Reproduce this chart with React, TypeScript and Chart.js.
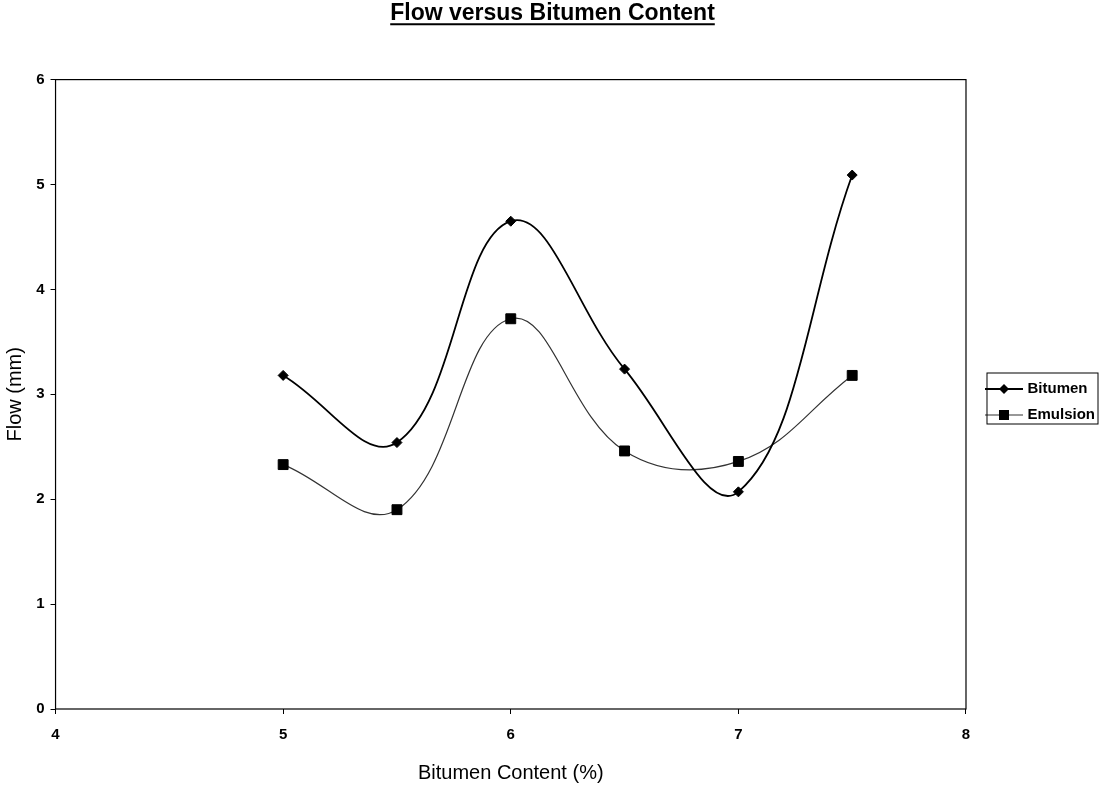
import React, { useEffect, useRef } from "react";
import { Chart, registerables } from "chart.js";

Chart.register(...registerables);

// ---- data ----
const bitumenContent = [5, 5.5, 6, 6.5, 7, 7.5];
const bitumenFlow = [3.18, 2.54, 4.65, 3.24, 2.07, 5.09];
const emulsionFlow = [2.33, 1.9, 3.72, 2.46, 2.36, 3.18];
const xTickValues = [4, 5, 6, 7, 8];
const yTickValues = [0, 1, 2, 3, 4, 5, 6];
const seriesNames = ["Bitumen", "Emulsion"];
const chartTitle = "Flow versus Bitumen Content";
const xAxisTitle = "Bitumen Content (%)";
const yAxisTitle = "Flow (mm)";

const FONT = '"Liberation Sans", Arial, Helvetica, sans-serif';
const TITLE_SIZE = 23;

function makeIcon(shape: string, color: string, lineWidth: number): HTMLCanvasElement {
  const c = document.createElement("canvas");
  c.width = 38;
  c.height = 12;
  const ctx = c.getContext("2d")!;
  ctx.strokeStyle = color;
  ctx.lineWidth = lineWidth;
  ctx.beginPath();
  ctx.moveTo(0, 6);
  ctx.lineTo(38, 6);
  ctx.stroke();
  ctx.fillStyle = "#000";
  if (shape === "diamond") {
    ctx.beginPath();
    ctx.moveTo(19, 1);
    ctx.lineTo(24, 6);
    ctx.lineTo(19, 11);
    ctx.lineTo(14, 6);
    ctx.closePath();
    ctx.fill();
  } else {
    ctx.fillRect(14, 1, 10, 10);
  }
  return c;
}

const decorPlugin = {
  id: "decor",
  afterDraw(chart: any) {
    const { ctx, chartArea: a } = chart;
    ctx.save();
    // plot frame
    ctx.strokeStyle = "#000";
    ctx.lineWidth = 1.2;
    ctx.strokeRect(a.left, a.top, a.right - a.left, a.bottom - a.top);

    // title underline
    const tb = chart.titleBlock;
    if (tb) {
      ctx.font = `bold ${TITLE_SIZE}px ${FONT}`;
      const w = ctx.measureText(chartTitle).width;
      const cx = (tb.left + tb.right) / 2;
      const cy = tb.top + (TITLE_SIZE * 1.2) / 2;
      ctx.lineWidth = 2;
      ctx.beginPath();
      ctx.moveTo(cx - w / 2, cy + 10.5);
      ctx.lineTo(cx + w / 2, cy + 10.5);
      ctx.stroke();
    }

    // legend border
    const lg = chart.legend;
    if (lg && lg.legendHitBoxes && lg.legendHitBoxes.length) {
      const hb = lg.legendHitBoxes;
      const left = hb[0].left - 1;
      let right = 0;
      hb.forEach((h: any) => (right = Math.max(right, h.left + h.width)));
      right = Math.min(right + 3, chart.width - 2);
      const top = hb[0].top + 7.5 - 16;
      const bottom = hb[hb.length - 1].top + 7.5 + 9;
      ctx.lineWidth = 1;
      ctx.strokeRect(left, top, right - left, bottom - top);
    }
    ctx.restore();
  },
};

export default function App() {
  const ref = useRef<HTMLCanvasElement | null>(null);

  useEffect(() => {
    if (!ref.current) return;
    Chart.defaults.font.family = FONT;
    Chart.defaults.color = "#000";

    const icons = [makeIcon("diamond", "#000", 1.8), makeIcon("square", "#333", 1.2)];

    const chart = new Chart(ref.current, {
      type: "line",
      data: {
        datasets: [
          {
            label: seriesNames[0],
            data: bitumenContent.map((x, i) => ({ x, y: bitumenFlow[i] })),
            borderColor: "#000",
            backgroundColor: "#000",
            borderWidth: 1.8,
            pointStyle: "rectRot",
            pointRadius: 5,
            pointBorderWidth: 1,
            pointBackgroundColor: "#000",
            pointBorderColor: "#000",
            tension: 0.4,
            fill: false,
          },
          {
            label: seriesNames[1],
            data: bitumenContent.map((x, i) => ({ x, y: emulsionFlow[i] })),
            borderColor: "#333",
            backgroundColor: "#000",
            borderWidth: 1.2,
            pointStyle: "rect",
            pointRadius: 7,
            pointBorderWidth: 1,
            pointBackgroundColor: "#000",
            pointBorderColor: "#000",
            tension: 0.4,
            fill: false,
          },
        ],
      },
      options: {
        animation: false,
        responsive: false,
        layout: { padding: 0 },
        plugins: {
          title: {
            display: true,
            text: chartTitle,
            color: "#000",
            font: { size: TITLE_SIZE, weight: "bold", lineHeight: 1.2 },
            padding: { top: 0, bottom: 52 },
          },
          legend: {
            position: "right",
            align: "center",
            title: { display: true, text: "", padding: 0, font: { size: 19, lineHeight: 1 } },
            labels: {
              color: "#000",
              font: { size: 15, weight: "bold" },
              usePointStyle: true,
              pointStyleWidth: 32,
              boxHeight: 12,
              padding: 11,
              generateLabels: (c: any) => {
                const items = (Chart.defaults.plugins.legend.labels as any).generateLabels(c);
                return items.map((it: any, i: number) => ({ ...it, pointStyle: icons[i], lineWidth: 0 }));
              },
            },
          },
          tooltip: { enabled: false },
        },
        scales: {
          x: {
            type: "linear",
            min: 4,
            max: 8,
            afterBuildTicks: (s: any) => {
              s.ticks = xTickValues.map((v) => ({ value: v }));
            },
            ticks: { color: "#000", font: { size: 15, weight: "bold" }, padding: 12 },
            grid: { display: true, drawOnChartArea: false, drawTicks: true, tickLength: 5, color: "#000" },
            border: { display: false },
            title: {
              display: true,
              text: xAxisTitle,
              color: "#000",
              font: { size: 20, lineHeight: 1.2 },
              padding: { top: 5, bottom: 0 },
            },
          },
          y: {
            type: "linear",
            min: 0,
            max: 6,
            afterBuildTicks: (s: any) => {
              s.ticks = yTickValues.map((v) => ({ value: v }));
            },
            ticks: { color: "#000", font: { size: 15, weight: "bold" }, padding: 6 },
            grid: { display: true, drawOnChartArea: false, drawTicks: true, tickLength: 5, color: "#000" },
            border: { display: false },
            title: {
              display: true,
              text: yAxisTitle,
              color: "#000",
              font: { size: 20, lineHeight: 1.2 },
              padding: { top: 3, bottom: 3.2 },
            },
          },
          yR: {
            type: "linear",
            position: "right",
            min: 0,
            max: 6,
            display: true,
            ticks: { display: false },
            grid: { display: false },
            border: { display: false },
            afterFit: (s: any) => {
              s.width = 11;
            },
          },
        },
      } as any,
      plugins: [decorPlugin],
    });

    return () => chart.destroy();
  }, []);

  return (
    <div style={{ position: "fixed", left: 0, top: 0, width: 1105, height: 785, background: "#fff" }}>
      <canvas ref={ref} width={1105} height={785} style={{ display: "block" }} />
    </div>
  );
}
